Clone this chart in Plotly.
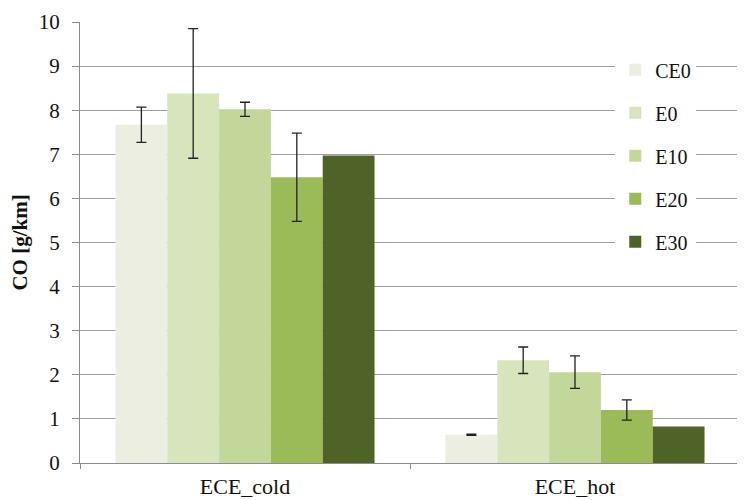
import plotly.graph_objects as go

categories = ["ECE_cold", "ECE_hot"]
series = ["CE0", "E0", "E10", "E20", "E30"]
values = {
    "CE0": [7.67, 0.64],
    "E0": [8.38, 2.33],
    "E10": [8.02, 2.06],
    "E20": [6.48, 1.20],
    "E30": [6.97, 0.83],
}
errors = {
    "CE0": [0.40, 0.015],
    "E0": [1.47, 0.30],
    "E10": [0.16, 0.37],
    "E20": [1.00, 0.23],
    "E30": None,
}
colors = {
    "CE0": "#EBEEE1",
    "E0": "#D8E4BC",
    "E10": "#C4D79B",
    "E20": "#9BBB59",
    "E30": "#4F6228",
}

FONT = "Liberation Serif"

fig = go.Figure()
for s in series:
    err = errors[s]
    fig.add_trace(go.Bar(
        name=s, x=categories, y=values[s],
        marker=dict(color=colors[s], line=dict(width=0)),
        error_y=dict(type="data", array=err if err else [0, 0], visible=err is not None,
                     color="#222222", thickness=1.3, width=5),
        legendgroup=s,
    ))

fig.update_layout(
    width=737, height=492,
    margin=dict(l=72, r=5, t=14, b=37),
    paper_bgcolor="white", plot_bgcolor="white",
    barmode="group", bargap=0.215, bargroupgap=0,
    font=dict(family=FONT, size=20, color="#111111"),
    legend=dict(x=0.811, xanchor="left", y=0.936, yanchor="top",
                bgcolor="white", tracegroupgap=14,
                font=dict(family=FONT, size=20, color="#111111")),
    showlegend=True,
)
fig.update_yaxes(range=[0, 10], dtick=1, showgrid=True, gridcolor="#A0A0A0", gridwidth=1.3,
                 showline=True, linecolor="#8C8C8C", linewidth=1.3,
                 ticks="outside", ticklen=7, tickcolor="#8C8C8C",
                 ticklabelstandoff=8, zeroline=False, automargin=False,
                 tickfont=dict(family=FONT, size=21),
                 title=dict(text="<b>CO [g/km]</b>", font=dict(family=FONT, size=21), standoff=5))
fig.update_xaxes(showline=True, linecolor="#8C8C8C", linewidth=1.3,
                 ticks="outside", tickson="boundaries", ticklen=5, tickcolor="#8C8C8C",
                 tickfont=dict(family=FONT, size=22), automargin=False,
                 ticklabelstandoff=3, showgrid=False)

fig.write_html("out.html")
